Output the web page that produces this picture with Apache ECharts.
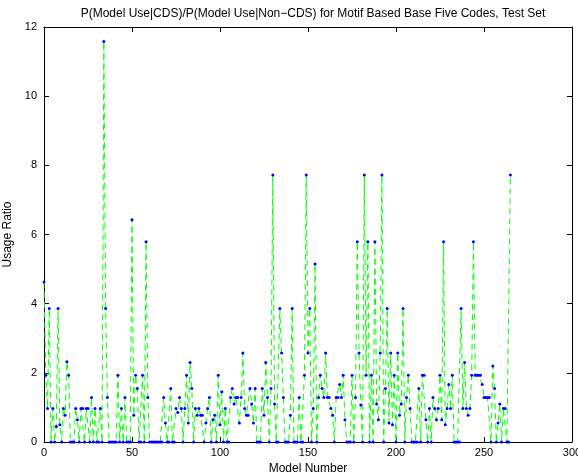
<!DOCTYPE html>
<html>
<head>
<meta charset="utf-8">
<script src="https://cdn.jsdelivr.net/npm/echarts@6/dist/echarts.min.js"></script>
<style>
html,body{margin:0;padding:0;background:#fff;}
#chart{width:578px;height:476px;}
</style>
</head>
<body>
<div id="chart"></div>
<script>
var titleText = 'P(Model Use|CDS)/P(Model Use|Non\u2212CDS) for Motif Based Base Five Codes, Test Set';
var xLabel = 'Model Number';
var yLabel = 'Usage Ratio';
var xTicks = [0, 50, 100, 150, 200, 250, 300];
var yTicks = [0, 2, 4, 6, 8, 10, 12];
var firstModel = 0;
var usageRatio = [
 4.63,1.93,0.97,3.86,0,0.97,0,0.45,3.86,0.5,
 0,0.97,0.77,2.32,1.93,0,0,0,0.97,0.64,
 0,0.97,0.97,0,0.97,0.97,0,1.29,0,0.97,
 0,0,0.97,0,11.58,3.86,1.29,0,0,0,
 0,0,1.93,0,0.97,0,1.29,0,0,0,
 6.43,0.77,1.93,1.55,0,0,1.93,0,5.79,1.29,
 0,0,0,0,0,0,0,0,1.29,0.55,
 0,0,1.55,0,0,0.97,0.85,1.29,0.97,0,
 0.97,1.93,0.55,2.3,1.55,0,0.97,0.77,0.97,0.77,
 0.77,0,0.55,0.97,1.29,0,0.64,0.77,0,1.93,
 0.5,1.45,0,0.97,0,0,1.29,1.55,1.1,1.29,
 1.29,0.55,1.29,2.57,0.97,0.77,0.77,1.55,1.1,0.55,
 1.55,0,0,0,1.55,0.77,2.3,1.29,0,1.55,
 7.72,1.1,0,0,3.86,2.57,1.29,0,0,0,
 0.77,3.86,0,0,0,1.29,0,0,1.93,7.72,
 2.57,3.86,0,0.97,5.15,0,1.29,1.93,1.55,1.29,
 2.57,1.29,1.29,0.97,0.77,0,1.29,1.29,1.66,1.29,
 1.93,0.64,0,0,0,1.93,0,1.29,5.79,2.57,
 1.07,0,7.72,1.93,5.79,0,1.93,0,5.79,1.1,
 0.64,2.57,7.72,0,1.55,3.86,0.55,2.57,0.5,1.93,
 0,2.57,0.77,1.1,3.86,0,1.29,1.93,0.97,0,
 0,0,0,1.55,0,1.93,1.93,0.64,0,0.97,
 0,1.29,0.97,0.64,0.97,1.93,0.64,5.79,0.5,0.97,
 1.66,0.97,1.93,0,0,0,0,3.86,0.97,2.3,
 0.97,0.77,0.97,1.93,5.79,1.93,1.93,1.93,1.93,1.66,
 1.29,1.29,1.29,1.29,0,2.2,1.55,0,0.55,1.1,
 0,0.97,0.97,0,0,7.72
];

var points = usageRatio.map(function (v, i) { return [firstModel + i, v]; });
var font = 'Liberation Sans, Arial, Helvetica, sans-serif';

var chart = echarts.init(document.getElementById('chart'), null, {renderer: 'canvas'});
var axisCommon = {
  axisLine: {show: true, onZero: false, lineStyle: {color: '#000', width: 1}},
  axisTick: {show: true, inside: true, length: 5, lineStyle: {color: '#000'}},
  splitLine: {show: false}
};
chart.setOption({
  animation: false,
  backgroundColor: '#fff',
  title: {
    text: titleText,
    left: 308, top: 3, textAlign: 'center',
    textStyle: {fontFamily: font, fontSize: 12, fontWeight: 'normal', color: '#000'}
  },
  grid: {left: 44, right: 6, top: 27, bottom: 34, containLabel: false, outerBoundsMode: 'none'},
  xAxis: [
    Object.assign({
      type: 'value', position: 'bottom', min: xTicks[0], max: xTicks[xTicks.length - 1],
      interval: xTicks[1] - xTicks[0],
      name: xLabel, nameLocation: 'middle', nameGap: 20,
      nameTextStyle: {fontFamily: font, fontSize: 12, color: '#000'},
      axisLabel: {fontFamily: font, fontSize: 11, color: '#000', margin: 5}
    }, axisCommon),
    Object.assign({
      type: 'value', position: 'top', min: xTicks[0], max: xTicks[xTicks.length - 1],
      interval: xTicks[1] - xTicks[0], axisLabel: {show: false}
    }, axisCommon)
  ],
  yAxis: [
    Object.assign({
      type: 'value', position: 'left', min: yTicks[0], max: yTicks[yTicks.length - 1],
      interval: yTicks[1] - yTicks[0],
      name: yLabel, nameLocation: 'middle', nameGap: 24, nameRotate: 90,
      nameTextStyle: {fontFamily: font, fontSize: 12, color: '#000'},
      axisLabel: {fontFamily: font, fontSize: 11, color: '#000', margin: 7}
    }, axisCommon),
    Object.assign({
      type: 'value', position: 'right', min: yTicks[0], max: yTicks[yTicks.length - 1],
      interval: yTicks[1] - yTicks[0], axisLabel: {show: false}
    }, axisCommon)
  ],
  series: [{
    type: 'line',
    data: points,
    xAxisIndex: 0, yAxisIndex: 0,
    symbol: 'circle', symbolSize: 3,
    showAllSymbol: true,
    lineStyle: {color: '#00ff00', width: 1, type: [6, 4]},
    itemStyle: {color: '#0000ff'},
    emphasis: {disabled: true}
  }]
});
</script>
</body>
</html>
